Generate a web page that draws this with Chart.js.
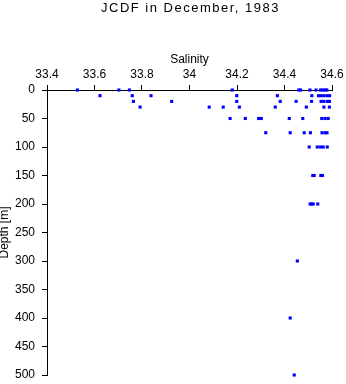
<!DOCTYPE html>
<html>

<head>
    <meta charset="utf-8">
    <script src="https://cdn.jsdelivr.net/npm/chart.js@4.4.1/dist/chart.umd.min.js"></script>
    <title>JCDF in December, 1983</title>
    <style>
        body { margin: 0; background: #fff; }
        canvas { display: block; }
    </style>
</head>

<body>
    <canvas id="ts-chart" width="346" height="384"></canvas>
    <script>
        const chartTitle = 'JCDF in December, 1983';

        // sampling depths (m) and the salinities measured at each depth
        const depthLevels = [0, 10, 20, 30, 50, 75, 100, 150, 200, 300, 400, 500];
        const salinityAtLevel = [
            [33.528, 33.703, 33.747, 34.180, 34.460, 34.468, 34.507, 34.533, 34.552, 34.561, 34.571, 34.578],
            [33.623, 33.759, 33.838, 34.199, 34.370, 34.515, 34.543, 34.554, 34.566, 34.579, 34.590],
            [33.764, 33.925, 34.199, 34.382, 34.449, 34.514, 34.554, 34.566, 34.581, 34.589],
            [33.792, 34.083, 34.142, 34.210, 34.361, 34.492, 34.566, 34.589],
            [34.171, 34.235, 34.291, 34.302, 34.420, 34.477, 34.557, 34.571, 34.584],
            [34.321, 34.424, 34.483, 34.509, 34.558, 34.571, 34.579],
            [34.504, 34.538, 34.552, 34.563, 34.580],
            [34.519, 34.525, 34.553, 34.560],
            [34.508, 34.514, 34.521, 34.540],
            [34.454],
            [34.424],
            [34.441]
        ];

        const xTickValues = [33.4, 33.6, 33.8, 34.0, 34.2, 34.4, 34.6];
        const xTickLabels = ['33.4', '33.6', '33.8', '34', '34.2', '34.4', '34.6'];
        const yTickValues = [0, 50, 100, 150, 200, 250, 300, 350, 400, 450, 500];

        const points = [];
        depthLevels.forEach((d, i) => {
            salinityAtLevel[i].forEach(s => points.push({ x: s, y: d }));
        });

        const font = { family: '"Liberation Sans", Arial, sans-serif', size: 12 };

        // the heading is drawn by hand so it can get wider letter spacing
        const headingPlugin = {
            id: 'heading',
            afterDraw(chart) {
                const ctx = chart.ctx;
                const area = chart.chartArea;
                ctx.save();
                ctx.font = '13px "Liberation Sans", Arial, sans-serif';
                ctx.letterSpacing = '1.5px';
                ctx.fillStyle = '#000';
                ctx.textAlign = 'center';
                ctx.textBaseline = 'middle';
                ctx.fillText(chartTitle, (area.left + area.right) / 2 + 1, 8.5);
                ctx.restore();
            }
        };

        new Chart(document.getElementById('ts-chart'), {
            type: 'scatter',
            data: {
                datasets: [{
                    data: points,
                    backgroundColor: '#0000ff',
                    borderWidth: 0,
                    pointStyle: 'rect',
                    pointRadius: 2.2,
                    clip: false
                }]
            },
            options: {
                responsive: false,
                animation: false,
                devicePixelRatio: 1,
                layout: { padding: { top: 0, right: 14, bottom: 9, left: 0 } },
                plugins: {
                    legend: { display: false },
                    tooltip: { enabled: false }
                },
                scales: {
                    x: {
                        type: 'linear',
                        position: 'top',
                        min: 33.4,
                        max: 34.6,
                        afterBuildTicks: s => { s.ticks = xTickValues.map(v => ({ value: v })); },
                        afterFit: s => {
                            s.height = 90;
                            s.paddingLeft = 0;
                            s.paddingRight = 0;
                        },
                        ticks: {
                            color: '#000',
                            font: font,
                            padding: 3,
                            maxRotation: 0,
                            callback: (v, i) => xTickLabels[i]
                        },
                        grid: { drawOnChartArea: false, drawTicks: true, tickLength: 5, color: '#000' },
                        border: { display: true, color: '#000' },
                        title: { display: true, text: 'Salinity', color: '#000', font: font, padding: { top: 52, bottom: 0 } }
                    },
                    y: {
                        type: 'linear',
                        reverse: true,
                        min: 0,
                        max: 500,
                        afterBuildTicks: s => { s.ticks = yTickValues.map(v => ({ value: v })); },
                        afterFit: s => {
                            s.width = 47;
                            s.paddingTop = 0;
                            s.paddingBottom = 0;
                        },
                        ticks: { color: '#000', font: font, padding: 7 },
                        grid: { drawOnChartArea: false, drawTicks: true, tickLength: 5, color: '#000' },
                        border: { display: true, color: '#000' },
                        title: { display: true, text: 'Depth [m]', color: '#000', font: font, padding: { top: -3, bottom: 0 } }
                    }
                }
            },
            plugins: [headingPlugin]
        });
    </script>
</body>

</html>
